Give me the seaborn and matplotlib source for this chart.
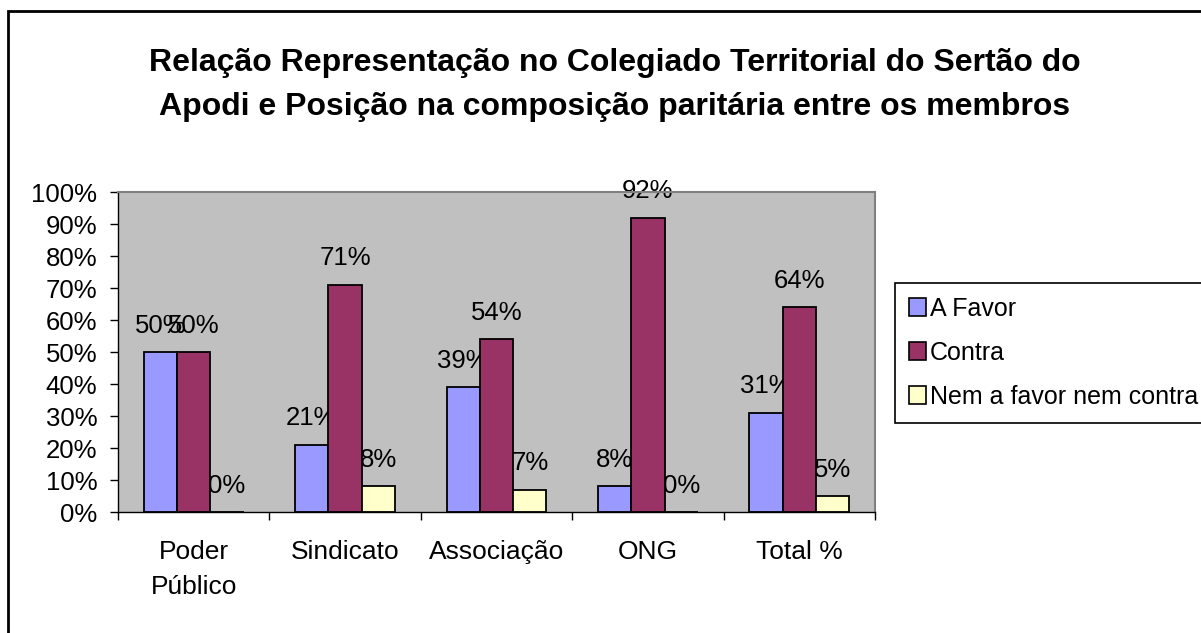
import matplotlib
matplotlib.use("Agg")
import matplotlib.pyplot as plt
import seaborn as sns
import pandas as pd
from matplotlib.patches import Rectangle, Patch
from matplotlib.ticker import FixedLocator, FuncFormatter

categories = ["Poder\nPúblico", "Sindicato", "Associação", "ONG", "Total %"]
series = ["A Favor", "Contra", "Nem a favor nem contra"]
a_favor = [50, 21, 39, 8, 31]
contra = [50, 71, 54, 92, 64]
nem = [0, 8, 7, 0, 5]
colors = ["#9999FF", "#993366", "#FFFFCC"]
title = "Relação Representação no Colegiado Territorial do Sertão do\nApodi e Posição na composição paritária entre os membros"

rows = []
for s, vals in zip(series, [a_favor, contra, nem]):
    for c, v in zip(categories, vals):
        rows.append({"cat": c, "serie": s, "val": v})
df = pd.DataFrame(rows)

sns.set_theme(style="white")
plt.rcParams["font.family"] = ["Liberation Sans", "DejaVu Sans"]
plt.rcParams["text.color"] = "black"
plt.rcParams["xtick.color"] = "black"
plt.rcParams["ytick.color"] = "black"
plt.rcParams["axes.labelcolor"] = "black"

W, H = 1201, 633
fig = plt.figure(figsize=(W / 100, H / 100), dpi=100)
ax = fig.add_axes([118 / W, 1 - 512 / H, (875 - 118) / W, (512 - 192) / H])
ax.set_facecolor("#C0C0C0")

sns.barplot(data=df, x="cat", y="val", hue="serie", order=categories,
            hue_order=series, palette=colors, width=0.66, dodge=True,
            edgecolor="black", linewidth=1.3, saturation=1, ax=ax,
            legend=False, zorder=2)

ax.set_xlim(-0.5, len(categories) - 0.5)
ax.set_ylim(0, 100)
ax.set_xlabel("")
ax.set_ylabel("")

# data labels (drawn beneath the bars, as in the reference)
for cont in ax.containers:
    for bar in cont:
        h = bar.get_height()
        ax.annotate(f"{h:.0f}%", (bar.get_x() + bar.get_width() / 2, h),
                    xytext=(0, 14), textcoords="offset points",
                    ha="center", va="baseline", fontsize=18.5, color="black",
                    zorder=1.5)

# y axis
ax.yaxis.set_major_locator(FixedLocator(list(range(0, 101, 10))))
ax.yaxis.set_major_formatter(FuncFormatter(lambda v, p: f"{v:.0f}%"))
ax.tick_params(axis="y", which="major", direction="out", length=6, width=1,
               color="black", labelcolor="black", labelsize=18.5, pad=9,
               left=True)

# x axis: boundary ticks, labels at centers
ax.xaxis.set_major_locator(FixedLocator([i - 0.5 for i in range(len(categories) + 1)]))
ax.xaxis.set_major_formatter(FuncFormatter(lambda v, p: ""))
ax.set_xticks(range(len(categories)), minor=True)
ax.set_xticklabels(categories, minor=True)
ax.tick_params(axis="x", which="major", direction="out", length=6, width=1,
               color="black", bottom=True)
ax.tick_params(axis="x", which="minor", length=0, labelsize=19,
               labelcolor="black", pad=20)
for lbl in ax.get_xticklabels(minor=True):
    lbl.set_linespacing(1.6)

for s in ["top", "right"]:
    ax.spines[s].set_color("#808080")
    ax.spines[s].set_linewidth(1.5)
for s in ["left", "bottom"]:
    ax.spines[s].set_color("black")
    ax.spines[s].set_linewidth(1)
ax.grid(False)

# legend
handles = [Patch(facecolor=c, edgecolor="black", linewidth=1.2) for c in colors]
leg = fig.legend(handles, series, loc="upper left",
                 bbox_to_anchor=(895 / W, 1 - 283 / H), fontsize=18,
                 frameon=True, fancybox=False, edgecolor="black",
                 framealpha=1, handlelength=0.7, handleheight=0.7,
                 handletextpad=0.15, labelspacing=0.8, borderpad=0.55,
                 borderaxespad=0)
leg.get_frame().set_linewidth(1.2)
for t in leg.get_texts():
    t.set_color("black")

# title
fig.text(615 / W, 1 - 48 / H, title, ha="center", va="top", color="black",
         fontsize=23, fontweight="bold", linespacing=1.6)

# outer chart border
fig.patches.append(Rectangle((8 / W, -0.1), 1.2, (H - 11) / H + 0.1,
                             transform=fig.transFigure, fill=False,
                             edgecolor="black", linewidth=2, clip_on=False))

fig.savefig("out.png", dpi=100)
